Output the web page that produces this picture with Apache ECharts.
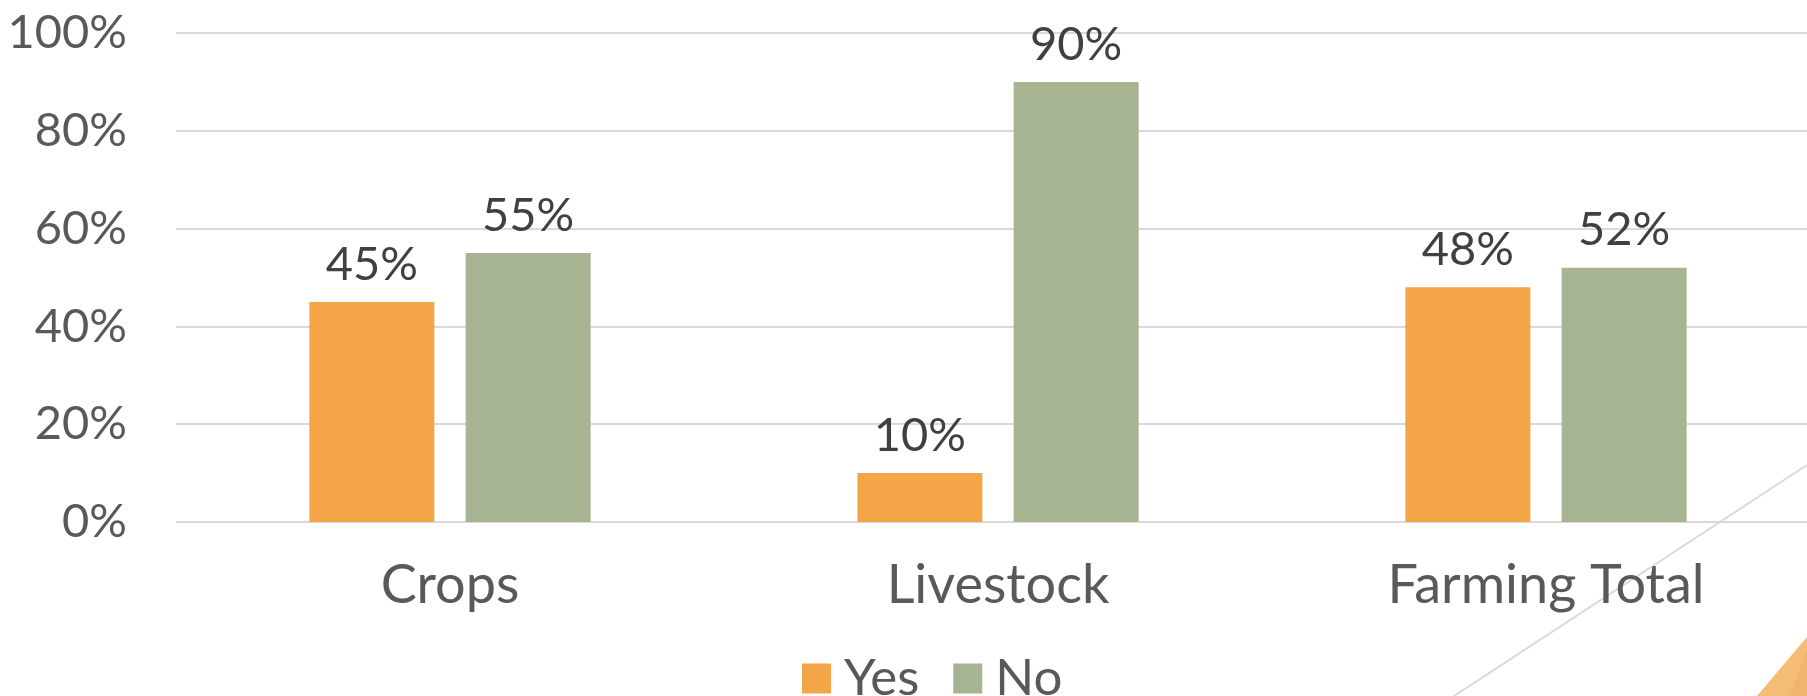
<!DOCTYPE html>
<html>
<head>
<meta charset="utf-8">
<script src="https://cdn.jsdelivr.net/npm/echarts@6/dist/echarts.min.js"></script>
<style>
html,body{margin:0;padding:0;background:#fff;overflow:hidden;}
#c{width:1820px;height:696px;}
</style>
</head>
<body>
<div id="c"></div>
<script>
const categories = ['Crops', 'Livestock', 'Farming Total'];
const yesValues = [45, 10, 48];
const noValues = [55, 90, 52];
const yTicks = [0, 20, 40, 60, 80, 100];

const chart = echarts.init(document.getElementById('c'), null, {renderer: 'canvas'});
const FONT = 'Lato';
const labelStyle = {
  show: true, position: 'top', distance: 14,
  formatter: p => p.value + '%',
  color: '#404040', fontFamily: FONT, fontSize: 47
};
chart.setOption({
  animation: false,
  backgroundColor: '#ffffff',
  grid: {left: 176, right: 0, top: 33, bottom: 174, containLabel: false},
  legend: {
    data: ['Yes', 'No'],
    left: 797, top: 648,
    itemWidth: 29, itemHeight: 30, itemGap: 34,
    icon: 'rect',
    textStyle: {color: '#595959', fontFamily: FONT, fontSize: 51, padding: [0, 0, 0, 8]}
  },
  xAxis: {
    type: 'category', data: categories,
    axisLine: {show: false}, axisTick: {show: false},
    axisLabel: {color: '#595959', fontFamily: FONT, fontSize: 54, margin: 37}
  },
  yAxis: {
    type: 'value', min: yTicks[0], max: yTicks[yTicks.length - 1], interval: 20,
    axisLine: {show: false}, axisTick: {show: false},
    axisLabel: {color: '#595959', fontFamily: FONT, fontSize: 47, margin: 49, formatter: v => v + '%'},
    splitLine: {lineStyle: {color: '#d9d9d9', width: 2}}
  },
  series: [
    {name: 'Yes', type: 'bar', data: yesValues, barWidth: 125, barGap: '25%',
     itemStyle: {color: '#F3A548'}, label: labelStyle},
    {name: 'No', type: 'bar', data: noValues, barWidth: 125,
     itemStyle: {color: '#A6B491'}, label: labelStyle}
  ],
  graphic: [
    {type: 'line', silent: true, z: -1,
     shape: {x1: 1454, y1: 696, x2: 1807, y2: 465},
     style: {stroke: '#d9d9d9', lineWidth: 2}},
    {type: 'polygon', silent: true,
     shape: {points: [[1757, 696], [1807, 637], [1807, 696]]},
     style: {fill: '#F5BC75'}},
    {type: 'polygon', silent: true,
     shape: {points: [[1790, 696], [1807, 650], [1807, 696]]},
     style: {fill: '#F0B46C'}}
  ]
});
</script>
</body>
</html>
